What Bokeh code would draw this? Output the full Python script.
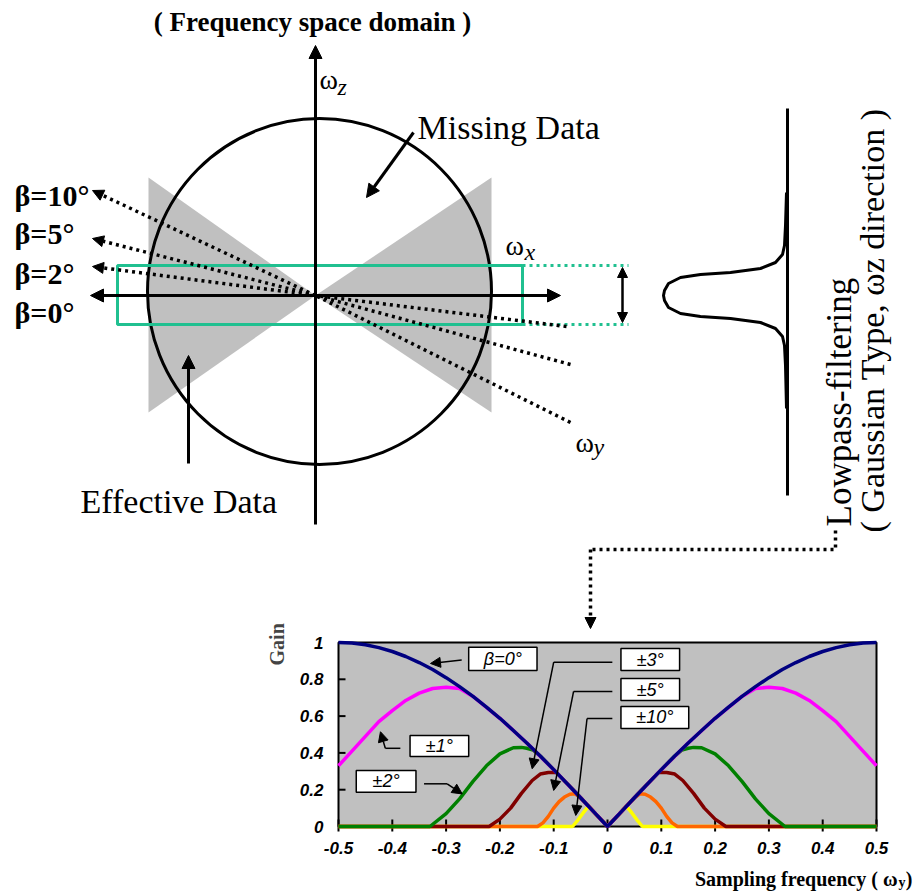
from math import pi
from bokeh.plotting import figure
from bokeh.models import Range1d, Arrow, NormalHead, Label
from bokeh.embed import file_html
from bokeh.resources import INLINE
from bokeh.core.properties import value

# ---------------- gain chart data ----------------
freq_ticks = [-0.5, -0.4, -0.3, -0.2, -0.1, 0, 0.1, 0.2, 0.3, 0.4, 0.5]
freq_tick_labels = ["-0.5", "-0.4", "-0.3", "-0.2", "-0.1", "0", "0.1", "0.2", "0.3", "0.4", "0.5"]
gain_ticks = [0, 0.2, 0.4, 0.6, 0.8, 1]
gain_tick_labels = ["0", "0.2", "0.4", "0.6", "0.8", "1"]

beta0_x = [-0.5, -0.475, -0.45, -0.425, -0.4, -0.375, -0.35, -0.325, -0.3, -0.275, -0.25,
           -0.225, -0.2, -0.175, -0.15, -0.125, -0.1, -0.075, -0.05, -0.025, 0,
           0.025, 0.05, 0.075, 0.1, 0.125, 0.15, 0.175, 0.2, 0.225, 0.25,
           0.275, 0.3, 0.325, 0.35, 0.375, 0.4, 0.425, 0.45, 0.475, 0.5]
beta0_gain = [1.0, 0.997, 0.988, 0.972, 0.951, 0.924, 0.891, 0.853, 0.809, 0.760, 0.707,
              0.649, 0.588, 0.522, 0.454, 0.383, 0.309, 0.233, 0.156, 0.078, 0.0,
              0.078, 0.156, 0.233, 0.309, 0.383, 0.454, 0.522, 0.588, 0.649, 0.707,
              0.760, 0.809, 0.853, 0.891, 0.924, 0.951, 0.972, 0.988, 0.997, 1.0]

beta1_x = [-0.5, -0.475, -0.45, -0.425, -0.4, -0.375, -0.35, -0.325, -0.3, -0.275, -0.25,
           -0.2, -0.15, -0.1, -0.05, 0, 0.05, 0.1, 0.15, 0.2,
           0.25, 0.275, 0.3, 0.325, 0.35, 0.375, 0.4, 0.425, 0.45, 0.475, 0.5]
beta1_gain = [0.33, 0.41, 0.49, 0.57, 0.63, 0.685, 0.725, 0.75, 0.757, 0.75, 0.707,
              0.588, 0.454, 0.309, 0.156, 0.0, 0.156, 0.309, 0.454, 0.588,
              0.707, 0.75, 0.757, 0.75, 0.725, 0.685, 0.63, 0.57, 0.49, 0.41, 0.33]

beta2_x = [-0.5, -0.33, -0.3, -0.275, -0.25, -0.225, -0.2, -0.175, -0.16, -0.15, -0.138,
           -0.125, -0.1, -0.075, -0.05, -0.025, 0, 0.025, 0.05, 0.075, 0.1, 0.125,
           0.138, 0.15, 0.16, 0.175, 0.2, 0.225, 0.25, 0.275, 0.3, 0.33, 0.5]
beta2_gain = [0, 0, 0.07, 0.15, 0.245, 0.33, 0.395, 0.428, 0.43, 0.425, 0.415,
              0.383, 0.309, 0.233, 0.156, 0.078, 0, 0.078, 0.156, 0.233, 0.309, 0.383,
              0.415, 0.425, 0.43, 0.428, 0.395, 0.33, 0.245, 0.15, 0.07, 0, 0]

beta3_x = [-0.5, -0.22, -0.2, -0.18, -0.16, -0.14, -0.125, -0.11, -0.095, -0.075, -0.05, -0.025, 0,
           0.025, 0.05, 0.075, 0.095, 0.11, 0.125, 0.14, 0.16, 0.18, 0.2, 0.22, 0.5]
beta3_gain = [0, 0, 0.04, 0.10, 0.18, 0.25, 0.285, 0.293, 0.294, 0.233, 0.156, 0.078, 0,
              0.078, 0.156, 0.233, 0.294, 0.293, 0.285, 0.25, 0.18, 0.10, 0.04, 0, 0]

beta5_x = [-0.5, -0.13, -0.12, -0.11, -0.1, -0.09, -0.08, -0.07, -0.06, -0.05, -0.025, 0,
           0.025, 0.05, 0.06, 0.07, 0.08, 0.09, 0.1, 0.11, 0.12, 0.13, 0.5]
beta5_gain = [0, 0, 0.02, 0.055, 0.10, 0.135, 0.16, 0.175, 0.178, 0.156, 0.078, 0,
              0.078, 0.156, 0.178, 0.175, 0.16, 0.135, 0.10, 0.055, 0.02, 0, 0]

beta10_x = [-0.5, -0.065, -0.055, -0.045, -0.038, -0.033, -0.025, 0,
            0.025, 0.033, 0.038, 0.045, 0.055, 0.065, 0.5]
beta10_gain = [0, 0, 0.035, 0.075, 0.10, 0.103, 0.078, 0,
               0.078, 0.103, 0.10, 0.075, 0.035, 0, 0]

series_colors = ["#ffff00", "#ff6600", "#800000", "#008000", "#ff00ff", "#000080"]
callout_labels = ["β=0°", "±1°", "±2°", "±3°", "±5°", "±10°"]
beta_labels = ["β=10°", "β=5°", "β=2°", "β=0°"]

SERIF = value("Liberation Serif")
SANS = value("Liberation Sans")

# ---------------- one canvas: diagram in pixel-like units, chart on extra ranges ----------------
p = figure(width=924, height=894, x_range=Range1d(0, 924), y_range=Range1d(894, 0),
           x_axis_type=None, y_axis_type=None, min_border=0, toolbar_location=None,
           output_backend="svg")
p.outline_line_color = None
p.background_fill_color = "white"
p.border_fill_color = "white"

# gain chart frame: freq -0.5..0.5 -> px 338..876 ; gain 0..1 -> px 826..642 (from top)
PXF = 538.0
PXG = 184.0
p.extra_x_ranges = {"freq": Range1d(-607 / PXF, (924 - 607) / PXF)}
p.extra_y_ranges = {"gain": Range1d((826 - 894) / PXG, 826 / PXG)}
CH = dict(x_range_name="freq", y_range_name="gain")


def arrow(x0, y0, x1, y1, lw=3, size=12, dash="solid", both=False, chart=False):
    kw = dict(x_range_name="freq", y_range_name="gain") if chart else {}
    p.add_layout(Arrow(x_start=x0, y_start=y0, x_end=x1, y_end=y1, line_width=lw,
                       line_color="black", line_dash=dash,
                       end=NormalHead(size=size, fill_color="black", line_color="black", line_width=1),
                       start=NormalHead(size=size, fill_color="black", line_color="black",
                                        line_width=1) if both else None, **kw))


# ---- top diagram ----
p.patch([148, 148, 315], [177, 412, 295], fill_color="#c0c0c0", line_color=None)
p.patch([491, 491, 315], [177, 412, 295], fill_color="#c0c0c0", line_color=None)
p.ellipse(x=319, y=291, width=344, height=346, fill_color=None, line_color="black", line_width=3)

arrow(315, 524, 315, 45, lw=3, size=13)
arrow(90, 295, 560, 295, lw=3, size=13, both=True)

GREEN = "#20c090"
p.quad(left=117, right=522, top=265, bottom=324, fill_color=None, line_color=GREEN, line_width=3)
p.multi_line([[522, 628], [522, 628]], [[265, 265], [324, 324]], line_color=GREEN, line_width=3,
             line_dash="3 4")
arrow(622, 267, 622, 322, lw=2.5, size=10, both=True)

beta_left_y = [190, 238, 266]
beta_right = [(570, 422), (570, 364), (566, 326)]
for ly, (rx, ry) in zip(beta_left_y, beta_right):
    p.line([rx, 315], [ry, 295], line_color="black", line_width=3.5, line_dash="3 4")
    arrow(315, 295, 92, ly, lw=3.5, size=11, dash="3 4")

p.text(x=[14, 14, 14, 14], y=[195, 233, 273, 312], text=beta_labels, text_font=SERIF,
       text_font_size="30px", text_font_style="bold", text_align="left",
       text_baseline="alphabetic", text_color="black")

p.text(x=[319, 505, 575], y=[79, 245, 442], text=["ω", "ω", "ω"], text_font=SERIF,
       text_font_size="28px", text_align="left", text_baseline="alphabetic")
p.text(x=[337, 524, 593], y=[86, 251, 446], text=["z", "x", "y"], text_font=SERIF,
       text_font_size="24px", text_font_style="italic", text_align="left",
       text_baseline="alphabetic")

p.text(x=[312], y=[21], text=["( Frequency space domain )"], text_font=SERIF,
       text_font_size="27px", text_font_style="bold", text_align="center", text_baseline="middle")

p.text(x=[417, 80], y=[127, 501], text=["Missing Data", "Effective Data"], text_font=SERIF,
       text_font_size="34px", text_align="left", text_baseline="alphabetic")
arrow(413, 132, 366, 197, lw=3, size=13)
arrow(188, 463, 188, 355, lw=3, size=13)

p.line([787, 787], [108, 495], line_color="black", line_width=3)
gauss_x = [786, 785, 784, 782, 775, 760, 730, 700, 680, 668, 664, 663,
           664, 668, 680, 700, 730, 760, 775, 782, 784, 785, 786]
gauss_y = [192, 225, 245, 254, 262, 268, 272, 274, 277, 283, 290, 295,
           300, 307, 313, 316, 318, 322, 328, 336, 345, 365, 408]
p.line(gauss_x, gauss_y, line_color="black", line_width=3)

p.text(x=[839], y=[526], text=["Lowpass-filtering"], angle=pi / 2, text_font=SERIF,
       text_font_size="35px", text_align="left", text_baseline="middle")
p.text(x=[872], y=[532], text=["( Gaussian Type, ωz direction )"], angle=pi / 2, text_font=SERIF,
       text_font_size="34px", text_align="left", text_baseline="middle")

p.line([835, 835, 590], [530, 549, 549], line_color="black", line_width=3.5, line_dash="3 4")
arrow(590, 549, 590, 628, lw=3.5, size=11, dash="3 4")

# ---- gain chart ----
p.quad(left=-0.5, right=0.5, bottom=0, top=1, fill_color="#c0c0c0", line_color="black",
       line_width=2, **CH)
tin_x, tout_x = 7 / PXG, 5 / PXG
p.segment(x0=freq_ticks, x1=freq_ticks, y0=[-tout_x] * len(freq_ticks), y1=[tin_x] * len(freq_ticks),
          line_color="black", line_width=2, **CH)
p.segment(x0=[-0.5] * len(gain_ticks), x1=[-0.5 + 7 / PXF] * len(gain_ticks), y0=gain_ticks,
          y1=gain_ticks, line_color="black", line_width=2, **CH)
p.text(x=freq_ticks, y=[0] * len(freq_ticks), text=freq_tick_labels, y_offset=15,
       text_font=SANS, text_font_size="17px", text_font_style="bold italic", text_align="center",
       text_baseline="top", text_color="black", **CH)
p.text(x=[-0.5] * len(gain_ticks), y=gain_ticks, text=gain_tick_labels, x_offset=-15,
       text_font=SANS, text_font_size="17px", text_font_style="bold italic", text_align="right",
       text_baseline="middle", text_color="black", **CH)

series = [(beta10_x, beta10_gain), (beta5_x, beta5_gain), (beta3_x, beta3_gain),
          (beta2_x, beta2_gain), (beta1_x, beta1_gain), (beta0_x, beta0_gain)]
for (xs, ys), c in zip(series, series_colors):
    p.line(xs, ys, line_color=c, line_width=3.5, **CH)

box_left = [-0.258, -0.367, -0.467, 0.025, 0.025, 0.025]
box_right = [-0.131, -0.258, -0.356, 0.134, 0.134, 0.151]
box_bottom = [0.848, 0.380, 0.186, 0.848, 0.685, 0.533]
box_top = [0.974, 0.495, 0.304, 0.967, 0.804, 0.652]
p.quad(left=box_left, right=box_right, bottom=box_bottom, top=box_top,
       fill_color="white", line_color="black", line_width=1.5, **CH)
p.text(x=[(a + b) / 2 for a, b in zip(box_left, box_right)],
       y=[(a + b) / 2 for a, b in zip(box_bottom, box_top)],
       text=callout_labels, text_font=SANS, text_font_size="18px", text_font_style="italic",
       text_align="center", text_baseline="middle", text_color="black", **CH)

leaders_x = [[-0.385, -0.413], [-0.341, -0.298], [0.009, -0.1], [0.009, -0.063], [0.009, -0.038]]
leaders_y = [[0.425, 0.425], [0.232, 0.232], [0.893, 0.893], [0.734, 0.734], [0.587, 0.587]]
p.multi_line(leaders_x, leaders_y, line_color="black", line_width=1.5, **CH)
tips = [(-0.271, 0.905, -0.329, 0.886), (-0.413, 0.425, -0.422, 0.515),
        (-0.298, 0.232, -0.27, 0.177), (-0.1, 0.893, -0.14, 0.314),
        (-0.063, 0.734, -0.1, 0.196), (-0.038, 0.587, -0.059, 0.06)]
for x0, y0, x1, y1 in tips:
    arrow(x0, y0, x1, y1, lw=1.5, size=10, chart=True)

p.add_layout(Label(x=-0.615, y=0.99, text="Gain", angle=pi / 2, text_font="Liberation Serif",
                   text_font_size="20px", text_font_style="bold", text_align="center",
                   text_baseline="middle", **CH))
# x-axis title "Sampling frequency ( ω_y )" built right-to-left from the chart's right end
TR = (917 - 607) / PXF
YT = (826 - 878) / PXG
p.text(x=[TR], y=[YT], text=[" )"], text_font=SERIF, text_font_size="20px",
       text_font_style="bold", text_align="right", text_baseline="middle", **CH)
p.text(x=[TR - 12 / PXF], y=[YT - 4 / PXG], text=["y"], text_font=SERIF, text_font_size="14px",
       text_font_style="bold", text_align="right", text_baseline="middle", **CH)
p.text(x=[TR - 20 / PXF], y=[YT], text=["Sampling frequency ( ω"], text_font=SERIF,
       text_font_size="20px", text_font_style="bold", text_align="right",
       text_baseline="middle", **CH)

open("out.html", "w").write(file_html(p, INLINE))
